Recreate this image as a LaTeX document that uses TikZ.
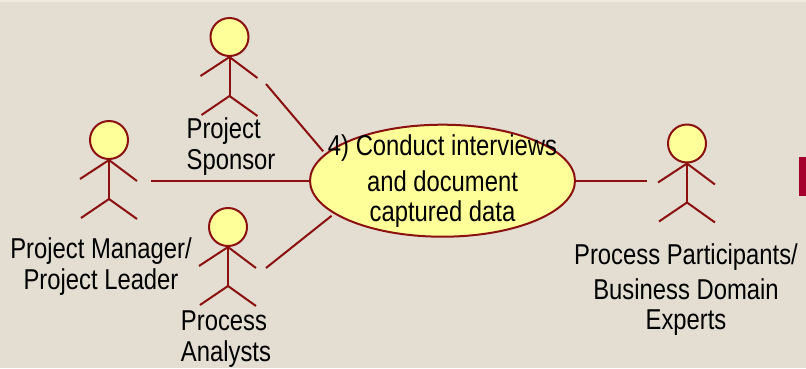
\documentclass[tikz,border=0pt]{standalone}
\usepackage{fontspec}
\setmainfont[FakeStretch=0.83]{Liberation Sans}
\usepackage{xcolor}
\usetikzlibrary{shapes.geometric}
\definecolor{actorline}{HTML}{8B1010}
\definecolor{actorfill}{HTML}{FFFF99}
\definecolor{slidebg}{HTML}{E3DDD2}
\definecolor{slidetop}{HTML}{EEE9DF}
\definecolor{slidemark}{HTML}{A5002D}
\tikzset{
  actorhead/.style={circle, draw=actorline, fill=actorfill, line width=2pt, minimum size=38pt, inner sep=0pt},
  limb/.style={draw=actorline, line width=2pt},
  link/.style={draw=actorline, line width=2pt},
  usecase/.style={ellipse, draw=actorline, fill=actorfill, line width=2pt, minimum width=265pt, minimum height=112pt, inner sep=0pt},
  label/.style={inner sep=0pt, font=\fontsize{28.7}{31}\selectfont, text=black}
}
\newcommand{\stickman}[3]{
\node[actorhead] (#1) at (#2, #3) {};
\draw[limb] (#2, #3+20) -- (#2, #3+59);
\draw[limb] (#2-29, #3+39) -- (#2, #3+20) -- (#2+28, #3+41);
\draw[limb] (#2-28, #3+78) -- (#2, #3+59) -- (#2+28, #3+79);
}
\begin{document}
\begin{tikzpicture}[x=1pt, y=-1pt]
\useasboundingbox (0, 0) rectangle (806, 368);
\fill[slidebg] (0, 0) rectangle (806, 368);
\fill[slidetop] (0, 0) rectangle (806, 2);
\fill[slidemark] (799, 157) rectangle (806, 196);
\stickman{sponsor}{229.5}{37}
\stickman{manager}{109}{140}
\stickman{analysts}{228}{227}
\stickman{participants}{687}{143.5}
\node[usecase] (interviews) at (442.5, 180.7) {};
\node[label] (interviewstext) at (442.5, 181) [align=center] {4) Conduct interviews\\[5pt]and document\\[-1pt]captured data};
\node[label] (sponsorlabel) at (231, 147) [align=left] {Project\\Sponsor};
\node[label] (managerlabel) at (101, 266.5) [align=center] {Project Manager/\\Project Leader};
\node[label] (analystslabel) at (226, 339) [align=left] {Process\\Analysts};
\node[label] (participantslabel) at (686, 289.5) [align=center] {Process Participants/\\[4pt]Business Domain\\[-1pt]Experts};
\coordinate (sponsorend) at (266, 84);
\coordinate (managerend) at (151, 180.7);
\coordinate (analystsend) at (266, 268);
\coordinate (participantsend) at (647, 180.7);
\draw[link, shorten >=3pt] (sponsorend) -- (interviews.167);
\draw[link] (managerend) -- (interviews.west);
\draw[link, shorten >=3pt] (analystsend) -- (interviews.197);
\draw[link] (participantsend) -- (interviews.east);
\end{tikzpicture}
\end{document}
